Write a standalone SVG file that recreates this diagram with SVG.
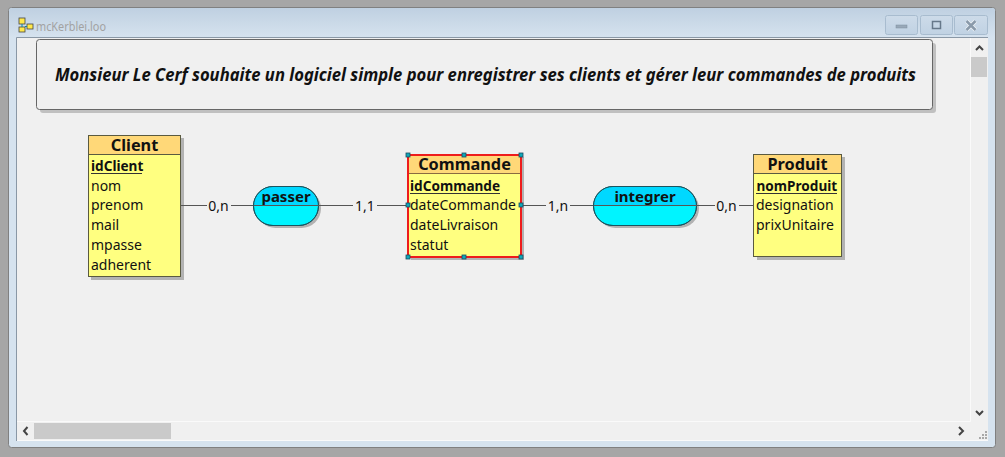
<svg xmlns="http://www.w3.org/2000/svg" width="1005" height="457" viewBox="0 0 1005 457">
<defs>
<linearGradient id="tb" x1="0" y1="0" x2="0" y2="1"><stop offset="0" stop-color="#bfd0e1"/><stop offset="1" stop-color="#d6e3ef"/></linearGradient>
<linearGradient id="btn" x1="0" y1="0" x2="0" y2="1"><stop offset="0" stop-color="#cddbe9"/><stop offset="1" stop-color="#c0d2e3"/></linearGradient>
</defs>
<style>
text{font-family:"Noto Sans","DejaVu Sans",sans-serif;fill:#111}
.sh{fill:#b2b2b2}
.ent{fill:#ffff80;stroke:#5a5a40;stroke-width:1}
.hd{fill:#ffd878;stroke:#5a5a40;stroke-width:1}
.title{font-size:16.3px;font-weight:700;text-anchor:middle}
.key{font-size:13.6px;font-weight:700}
.attr{font-size:14px}
.card{font-size:14px;text-anchor:middle}
.assoc{fill:#00f4ff;stroke:#1a5560;stroke-width:1}
.assocline{fill:none;stroke:#1a5560;stroke-width:1}
.assoctop{fill:#00d8ff}
.rel{font-size:15px;font-weight:700;text-anchor:middle}
.ul{stroke:#333;stroke-width:1}
.line{stroke:#555;stroke-width:1;fill:none}
.h{fill:#10a8b8;stroke:#1a4a60;stroke-width:.8}
.sc{fill:none;stroke:#444;stroke-width:2}
.btn{fill:url(#btn);stroke:#a8bccf;stroke-width:1}
</style>
<rect width="1005" height="457" fill="#a6a6a6"/>
<rect x="8.500" y="7.500" width="987" height="440" rx="3" fill="#d6e3ef" stroke="#808080"/>
<rect x="9" y="8" width="986" height="30" rx="3" fill="url(#tb)"/>
<rect x="17" y="38" width="971" height="403" fill="#f0f0f0"/>
<path d="M16.500 441V37.500H988" fill="none" stroke="#8a98a6"/>
<path d="M970.500 38V421.500H17" fill="none" stroke="#fafafa"/>
<path d="M17 440.500H988" fill="none" stroke="#fafafa"/>
<g id="titlebar">
<rect x="19" y="18" width="6" height="6" fill="#ffe84a" stroke="#444" stroke-width=".8"/>
<rect x="19" y="27" width="6" height="5" fill="#ffe84a" stroke="#444" stroke-width=".8"/>
<rect x="27" y="24" width="6" height="5" fill="#ffe84a" stroke="#444" stroke-width=".8"/>
<path d="M22 24V27M25 26.500H27" stroke="#0a8a9a"/>
<text x="36" y="31" font-size="12.500" textLength="70" lengthAdjust="spacingAndGlyphs" style="fill:#a2a2a2">mcKerblei.loo</text>
<rect class="btn" x="885.500" y="15.500" width="32" height="19" rx="2"/>
<rect class="btn" x="920.500" y="15.500" width="32" height="19" rx="2"/>
<rect class="btn" x="954.500" y="15.500" width="33" height="19" rx="2"/>
<rect x="896" y="25" width="11" height="3" fill="#98a8b8" stroke="#7c8e9f" stroke-width=".5"/>
<rect x="932.500" y="21.500" width="8" height="7" fill="none" stroke="#66788a" stroke-width="1.500"/>
<path d="M966.500 21L975.500 30M975.500 21L966.500 30" stroke="#f0f4f8" stroke-width="4" fill="none"/>
<path d="M966.500 21L975.500 30M975.500 21L966.500 30" stroke="#8a9aaa" stroke-width="2.500" fill="none"/>
</g>
<g id="scrollbars">
<rect x="971" y="57" width="16" height="20" fill="#cacaca"/>
<rect x="34" y="423" width="137" height="16" fill="#cacaca"/>
<path class="sc" d="M976 50L979.500 46.500L983 50"/>
<path class="sc" d="M976 411L979.500 414.500L983 411"/>
<path class="sc" d="M27.500 427L24 431L27.500 435"/>
<path class="sc" d="M959 427L963 431L959 435"/>
<g fill="#a8a8a8"><rect x="985" y="431" width="2" height="2"/><rect x="982" y="434" width="2" height="2"/><rect x="985" y="434" width="2" height="2"/><rect x="979" y="437" width="2" height="2"/><rect x="982" y="437" width="2" height="2"/><rect x="985" y="437" width="2" height="2"/></g>
</g>
<g id="note">
<rect x="40" y="43" width="896" height="70" rx="3" fill="#c0c0c0"/>
<rect x="36.500" y="39.500" width="896" height="70" rx="3" fill="#f0f0f0" stroke="#666"/>
<text x="55" y="81" font-size="17" font-weight="700" font-style="italic" textLength="861" lengthAdjust="spacingAndGlyphs">Monsieur Le Cerf souhaite un logiciel simple pour enregistrer ses clients et gérer leur commandes de produits</text>
</g>
<g id="client">
<rect class="sh" x="91" y="138" width="93" height="142"/>
<rect class="ent" x="88.500" y="135.500" width="92" height="141"/>
<rect class="hd" x="88.500" y="135.500" width="92" height="19"/>
<text class="title" x="134.500" y="151">Client</text>
<text class="key" x="91" y="171">idClient</text>
<line class="ul" x1="91" x2="142" y1="173.500" y2="173.500"/>
<text class="attr" x="91" y="191">nom</text>
<text class="attr" x="91" y="210">prenom</text>
<text class="attr" x="91" y="230">mail</text>
<text class="attr" x="91" y="250">mpasse</text>
<text class="attr" x="91" y="270">adherent</text>
</g>
<g id="passer">
<rect class="sh" x="256" y="189" width="65" height="39" rx="19.500"/>
<rect class="assoc" x="253.500" y="186.500" width="65" height="39" rx="19.500"/>
<path class="assoctop" d="M254 205.500A19 19 0 0 1 273 187H299A19 19 0 0 1 318 205.500Z"/>
<rect class="assocline" x="253.500" y="186.500" width="65" height="39" rx="19.500"/>
<line class="line" x1="254" x2="318" y1="205.500" y2="205.500"/>
<text class="rel" x="286" y="202">passer</text>
</g>
<g id="commande">
<rect class="sh" x="411" y="157" width="113" height="103"/>
<rect class="ent" x="408" y="155" width="113" height="102"/>
<rect class="hd" x="408" y="155" width="113" height="18.500" style="stroke:#8a6a40"/>
<rect x="408" y="155" width="113" height="102" fill="none" stroke="#ee1c1c" stroke-width="2"/>
<text class="title" x="464.500" y="170">Commande</text>
<text class="key" x="410" y="191">idCommande</text>
<line class="ul" x1="410" x2="500" y1="193.500" y2="193.500"/>
<text class="attr" x="410" y="210">dateCommande</text>
<text class="attr" x="410" y="230">dateLivraison</text>
<text class="attr" x="410" y="250">statut</text>
</g>
<g id="integrer">
<rect class="sh" x="596" y="189" width="103" height="39" rx="19.500"/>
<rect class="assoc" x="593.500" y="186.500" width="103" height="39" rx="19.500"/>
<path class="assoctop" d="M594 205.500A19 19 0 0 1 613 187H677A19 19 0 0 1 696 205.500Z"/>
<rect class="assocline" x="593.500" y="186.500" width="103" height="39" rx="19.500"/>
<line class="line" x1="594" x2="696" y1="205.500" y2="205.500"/>
<text class="rel" x="645" y="202">integrer</text>
</g>
<g id="produit">
<rect class="sh" x="757" y="157" width="88" height="103"/>
<rect class="ent" x="753.500" y="154.500" width="88" height="102"/>
<rect class="hd" x="753.500" y="154.500" width="88" height="19"/>
<text class="title" x="797.500" y="170">Produit</text>
<text class="key" x="756.500" y="191">nomProduit</text>
<line class="ul" x1="756" x2="837" y1="193.500" y2="193.500"/>
<text class="attr" x="756" y="210">designation</text>
<text class="attr" x="756" y="230">prixUnitaire</text>
</g>
<g id="connectors">
<path class="line" d="M181 205.500H207M231 205.500H253M318 205.500H353M377 205.500H408M521 205.500H546M570 205.500H593M696 205.500H715M739 205.500H754"/>
<text class="card" x="218.500" y="211">0,n</text>
<text class="card" x="365" y="211">1,1</text>
<text class="card" x="558" y="211">1,n</text>
<text class="card" x="726.500" y="211">0,n</text>
</g>
<g id="handles">
<rect class="h" x="406" y="153" width="4" height="4"/><rect class="h" x="462" y="153" width="4" height="4"/><rect class="h" x="519" y="153" width="4" height="4"/>
<rect class="h" x="406" y="203" width="4" height="4"/><rect class="h" x="519" y="203" width="4" height="4"/>
<rect class="h" x="406" y="255" width="4" height="4"/><rect class="h" x="462" y="255" width="4" height="4"/><rect class="h" x="519" y="255" width="4" height="4"/>
</g>
</svg>
